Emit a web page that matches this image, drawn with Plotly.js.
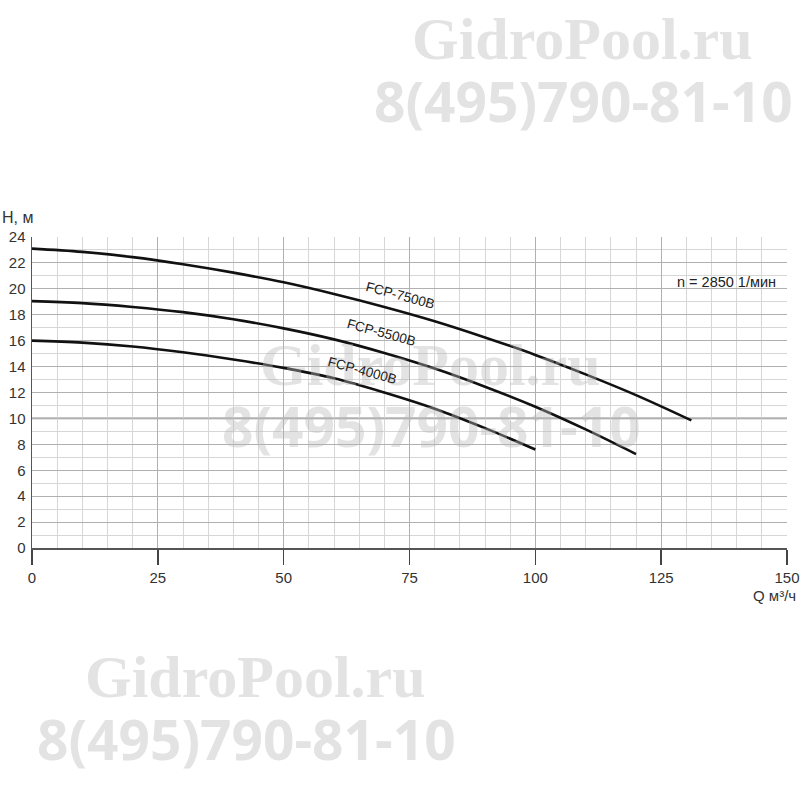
<!DOCTYPE html>
<html><head><meta charset="utf-8">
<script src="https://cdn.plot.ly/plotly-3.0.1.min.js"></script>
<style>body{margin:0;background:#fff}#c{width:800px;height:800px}</style>
</head><body><div id="c"></div>
<script>
const q7500 = [0,10,20,30,40,50,60,70,80,90,100,110,120,131];
const h7500 = [23.1,22.85,22.45,21.9,21.25,20.5,19.6,18.6,17.5,16.25,14.9,13.4,11.8,9.85];
const q5500 = [0,10,20,30,40,50,60,70,80,90,100,110,120];
const h5500 = [19.05,18.9,18.6,18.2,17.65,16.95,16.1,15.05,13.85,12.45,10.9,9.15,7.25];
const q4000 = [0,10,20,30,40,50,60,70,80,90,100];
const h4000 = [16.0,15.85,15.55,15.1,14.55,13.9,13.1,12.0,10.75,9.25,7.6];
const curveNames = ['FCP-7500B','FCP-5500B','FCP-4000B'];
const labelQ = [73.2,69.4,65.6];
const labelH = [19.5,16.6,13.7];
const xTicks = [0,25,50,75,100,125,150];
const yTicks = [0,2,4,6,8,10,12,14,16,18,20,22,24];
const speedText = 'n = 2850 1/мин';
const yTitle = 'H, м';
const xTitle = 'Q м³/ч';
const wm1 = 'GidroPool.ru';
const wm2 = '8(495)790-81-10';

const line = {color:'#111', width:2.6, shape:'spline', smoothing:1};
const traces = [
  {x:q7500, y:h7500, mode:'lines', line:line, name:curveNames[0], hoverinfo:'skip'},
  {x:q5500, y:h5500, mode:'lines', line:line, name:curveNames[1], hoverinfo:'skip'},
  {x:q4000, y:h4000, mode:'lines', line:line, name:curveNames[2], hoverinfo:'skip'}
];

const wmColor = 'rgba(185,185,185,0.4)';
const wmSerif = {family:'Liberation Serif', size:60, color:wmColor, weight:'bold'};
const wmSans = {family:'Open Sans', size:55, color:wmColor, weight:'bold'};
const annotations = [];
function px(x){return (x-32)/755;}
function py(y){return (548-y)/311;}
[[410,39,372,101],[258,365,220,425],[83,677,35,738]].forEach(p=>{
  annotations.push({xref:'paper',yref:'paper',x:px(p[0]),y:py(p[1]),xanchor:'left',yanchor:'middle',text:wm1,showarrow:false,font:wmSerif});
  annotations.push({xref:'paper',yref:'paper',x:px(p[2]),y:py(p[3]),xanchor:'left',yanchor:'middle',text:wm2,showarrow:false,font:wmSans});
});
curveNames.forEach((n,i)=>{
  annotations.push({x:labelQ[i],y:labelH[i],text:n,showarrow:false,textangle:15,font:{family:'Liberation Sans, Arial',size:13.5,color:'#222'}});
});
annotations.push({x:148.2,y:20.5,xanchor:'right',yanchor:'middle',text:speedText,showarrow:false,font:{family:'Liberation Sans, Arial',size:14.5,color:'#222'}});
annotations.push({xref:'paper',yref:'paper',x:px(0),y:py(218),xanchor:'left',yanchor:'middle',text:yTitle,showarrow:false,font:{family:'Liberation Sans, Arial',size:16,color:'#333'}});
annotations.push({xref:'paper',yref:'paper',x:px(798),y:py(595),xanchor:'right',yanchor:'middle',text:xTitle,showarrow:false,font:{family:'Liberation Sans, Arial',size:15,color:'#333'}});

const layout = {
  width:800, height:800,
  margin:{l:32, r:13, t:237, b:252},
  paper_bgcolor:'#fff', plot_bgcolor:'#fff',
  showlegend:false,
  font:{family:'Liberation Sans, Arial', color:'#333'},
  xaxis:{range:[0,150], tickvals:xTicks, ticktext:xTicks.map(String), showgrid:true, gridcolor:'#b0b0b0', gridwidth:1,
    minor:{dtick:5, tick0:0, showgrid:true, gridcolor:'#d6d6d6', gridwidth:1},
    ticks:'outside', ticklen:15, tickcolor:'#444', tickwidth:1.5,
    showline:true, linecolor:'#555', linewidth:1.5, zeroline:false,
    tickfont:{size:15, color:'#333'}, fixedrange:true},
  yaxis:{range:[0,24], tickvals:yTicks, ticktext:yTicks.map(String), showgrid:true, gridcolor:'#b0b0b0', gridwidth:1,
    minor:{dtick:1, tick0:0, showgrid:true, gridcolor:'#d6d6d6', gridwidth:1},
    ticks:'', showline:true, linecolor:'#555', linewidth:1.5, zeroline:false,
    tickfont:{size:15, color:'#333'}, ticklabelstandoff:2, fixedrange:true},
  shapes:[{type:'line', xref:'x', yref:'y', x0:0, x1:150, y0:10, y1:10, line:{color:'#8a8a8a', width:1.6}, layer:'below'}],
  annotations:annotations
};
Plotly.newPlot('c', traces, layout, {staticPlot:true, displayModeBar:false});
</script></body></html>
